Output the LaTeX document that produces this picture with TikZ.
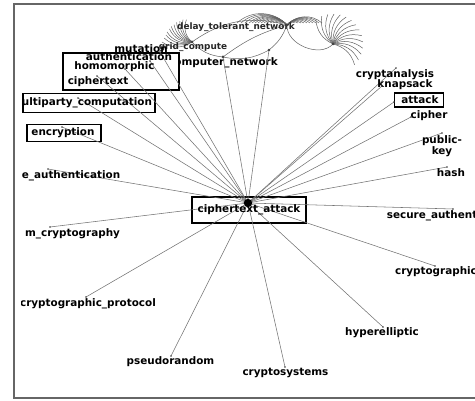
\documentclass[tikz,border=0pt]{standalone}
\usepackage{fontspec}
\setmainfont{DejaVu Sans}
\begin{document}
\begin{tikzpicture}[x=1pt,y=-1pt,
  lbl/.style={font=\fontsize{10.4}{11}\selectfont\bfseries, inner sep=0pt, text=black},
  smalllbl/.style={font=\fontsize{8.9}{10}\selectfont\bfseries, inner sep=0pt, text=black!85},
  spoke/.style={draw=black!55, line width=0.55pt},
  fanarc/.style={draw=black!62, line width=0.5pt},
  tagbox/.style={draw=black, line width=1.3pt, fill=white},
  leafdot/.style={fill=black!75},
]
\useasboundingbox (0,0) rectangle (475,401);
% frame
\draw[black!60, line width=1.5pt] (475,4) -- (14,4) -- (14,398) -- (475,398);

\begin{scope}
\clip (21,5) rectangle (475,397);

% centre and leaf positions
\coordinate (hub) at (248,203);
\coordinate (fA) at (192,42);
\coordinate (fB) at (287,25);
\coordinate (fC) at (333,44);
\coordinate (cn) at (223,57);
\coordinate (dd) at (269,50);

\coordinate (eCsys) at (285,367);
\coordinate (ePseu) at (171,356);
\coordinate (eProt) at (86,297);
\coordinate (eHyp) at (383,327);
\coordinate (eCgr) at (435,266);
\coordinate (eSec) at (453,209);
\coordinate (eHash) at (447,167);
\coordinate (ePub) at (442,133);
\coordinate (eCiph) at (411,117);
\coordinate (eAtt) at (394,102);
\coordinate (eKnap) at (382,86);
\coordinate (eCana) at (396,68);
\coordinate (eEauth) at (48,169);
\coordinate (eMcry) at (50,227);
\coordinate (eEnc) at (62,127);
\coordinate (eMulti) at (78,98);
\coordinate (eCtext) at (97,76);
\coordinate (eHomo) at (125,69);
\coordinate (eAuth) at (150,61);
\coordinate (eMut) at (160,52);

% label that sits partly under the big tag box
\node[lbl] (lcn) at (223,63) {computer\_network};

% highlighted tags (boxes)
\node[tagbox, minimum width=116pt, minimum height=37pt] (bigbox) at (121,71.5) {};
\node[tagbox, minimum width=132pt, minimum height=19pt] (multibox) at (89,103) {};
\node[tagbox, minimum width=74pt, minimum height=17pt] (encbox) at (64,133) {};
\node[tagbox, minimum width=49pt, minimum height=14pt] (attbox) at (419,100) {};
\node[tagbox, minimum width=114pt, minimum height=26pt] (ctabox) at (249,210) {};

% fan of arcs around grid_compute
\foreach \a/\r [count=\i] in {180/30,172/28,165/27,158/27,150/26,143/26,136/25,128/25,120/24,112/24,104/23} {
  \path (fA) ++(-\a:\r) coordinate (fa\i);
  \draw[fanarc] (fA) to[bend left=35] (fa\i);
}
% dense fan around delay_tolerant_network
\foreach \dx [count=\i] in {-50,-46,-42,-38,-35,-32,-29,-26,-23,-20,-17,-14,-11,-8,-5} {
  \path (fB) ++(\dx,-2) coordinate (fbl\i);
  \draw[fanarc] (fB) to[bend right=45] (fbl\i);
}
\foreach \dx [count=\i] in {5,8,11,14,17,20,23,26,29,32,35} {
  \path (fB) ++(\dx,-2) coordinate (fbr\i);
  \draw[fanarc] (fB) to[bend left=45] (fbr\i);
}
% fan around the right-hand cluster
\foreach \a [count=\i] in {-125,-112,-100,-88,-76,-64,-52,-40,-28,-16,-4,8,20,32,44} {
  \path (fC) ++(\a:30) coordinate (fc\i);
  \draw[fanarc] (fC) to[bend left=30] (fc\i);
}
% links between the clusters
\draw[fanarc] (fA) to[bend right=20] (cn);
\draw[fanarc] (cn) to[bend right=20] (dd);
\draw[fanarc] (cn) to[bend left=10] (fB);
\draw[fanarc] (dd) to[bend right=15] (fB);
\draw[fanarc] (fA) to[bend left=25] (fB);
\draw[fanarc] (fB) to[bend right=70] (fC);

% spokes from the central node
\foreach \e in {eCsys,ePseu,eProt,eHyp,eCgr,eSec,eHash,ePub,eCiph,eAtt,eKnap,eCana,eEauth,eMcry,eEnc,eMulti,eCtext,eHomo,eAuth,eMut,cn,dd}
  \draw[spoke] (hub) -- (\e);

% labels
\node[smalllbl] (ldtn) at (236,27) {delay\_tolerant\_network};
\node[smalllbl] (lgc) at (193,47) {grid\_compute};
\node[lbl] (lmut) at (141,49) {mutation};
\node[lbl] (lauth) at (129,57) {authentication};
\node[lbl] (lhomo) at (114.5,67) {homomorphic};
\node[lbl] (lctext) at (98,82) {ciphertext};
\node[lbl] (lmulti) at (81.5,103) {multiparty\_computation};
\node[lbl] (lenc) at (63,133) {encryption};
\node[lbl] (leauth) at (71,176) {e\_authentication};
\node[lbl] (lmcry) at (72.5,234) {m\_cryptography};
\node[lbl] (lprot) at (88,304) {cryptographic\_protocol};
\node[lbl] (lpseu) at (170.5,362) {pseudorandom};
\node[lbl] (lcsys) at (285.5,373) {cryptosystems};
\node[lbl] (lhyp) at (382,333) {hyperelliptic};
\node[lbl] (lcgr) at (436,272) {cryptographic};
\node[lbl] (lsec) at (452,216) {secure\_authentication};
\node[lbl] (lhash) at (451,173) {hash};
\node[lbl, align=center] (lpub) at (442,146) {public-\\key};
\node[lbl] (lciph) at (429,116) {cipher};
\node[lbl] (latt) at (420,100) {attack};
\node[lbl] (lknap) at (405,85) {knapsack};
\node[lbl] (lcana) at (395,75) {cryptanalysis};
\node[lbl] (lcta) at (249,210) {ciphertext\_attack};

% leaf dots and the central dot
\foreach \e in {eCsys,ePseu,eProt,eHyp,eCgr,eSec,eHash,ePub,eCiph,eAtt,eKnap,eCana,eEauth,eMcry,eEnc,eMulti,eCtext,eHomo,eAuth,eMut}
  \fill[leafdot] (\e) circle (0.9pt);
\fill[leafdot] (fA) circle (1.5pt);
\fill[leafdot] (cn) circle (1.5pt);
\fill[leafdot] (dd) circle (1.3pt);
\fill[leafdot] (fB) circle (1.3pt);
\fill[leafdot] (fC) circle (1.3pt);
\fill[black] (hub) circle (4.2pt);
\end{scope}
\end{tikzpicture}
\end{document}
